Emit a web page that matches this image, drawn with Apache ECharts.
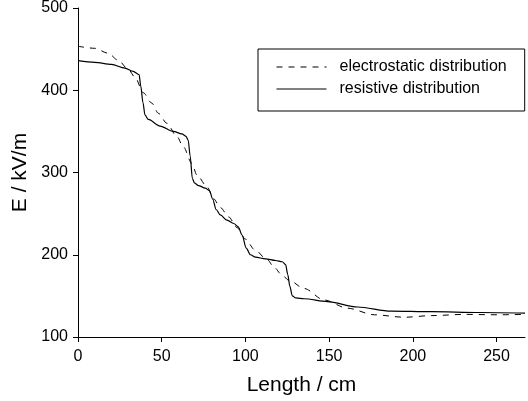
<!DOCTYPE html>
<html>
<head>
<meta charset="utf-8">
<script src="https://cdn.jsdelivr.net/npm/echarts@6/dist/echarts.min.js"></script>
<style>
html,body{margin:0;padding:0;background:#fff;}
#chart{width:528px;height:401px;}
</style>
</head>
<body>
<div id="chart"></div>
<script>
// Data
var seriesNames = ['electrostatic distribution', 'resistive distribution'];
var xTicks = [0, 50, 100, 150, 200, 250];
var yTicks = [100, 200, 300, 400, 500];

var electrostatic = [
  [0,453.5],[10,451],[18,445],[24,436.5],[30,425.5],[34,416],[39,397],[44,384.5],[48,372],
  [53,360],[59,344],[63,331],[68,311],[71,297],[77,283],[81,268],[85,257.5],[90,246],[95,233],
  [100,219],[105.6,206],[112.7,194.6],[117.6,184],[121,177],[126,169],[135,159],[147,145],
  [161,135],[177,127],[195,124],[211,126],[231,127.5],[251,127],[267,127.5]
];

var resistive = [
  [0,436],[10,434],[20,431.5],[28,427],[33,423],[36.5,419],[37.5,405],[38.8,385],[40,370],
  [42,364.5],[49,356.5],[57,350],[62,347],[64.5,344],[65.8,339.5],[67,320],[68.3,293],
  [69.5,287.5],[72,284],[76,281],[78.5,278],[80.5,267.5],[82.5,255],[85,248.5],[89,242],
  [93,238],[95.7,234],[98,224],[100.5,208],[103,200],[106,197],[112,195],[118,193],
  [122,191.5],[124,188],[125.3,176],[126.5,162],[128,150],[130,147.5],[135,146.5],
  [149,143],[167,136.5],[187,131.5],[211,130.8],[240,129.8],[267,129]
];

var FONT = '"Liberation Sans", Arial, Helvetica, sans-serif';
var chart = echarts.init(document.getElementById('chart'), null, {renderer: 'canvas'});
chart.setOption({
  animation: false,
  backgroundColor: '#fff',
  grid: {left: 78, right: 3, top: 8, bottom: 64},
  legend: {
    orient: 'vertical',
    left: 258, top: 49,
    padding: [10, 18, 14, 18],
    itemWidth: 50, itemHeight: 16, itemGap: 6,
    itemStyle: {opacity: 0, color: 'rgba(0,0,0,0)', borderWidth: 0},
    lineStyle: {width: 1},
    borderColor: '#000', borderWidth: 1, borderRadius: 0,
    textStyle: {fontFamily: FONT, fontSize: 16, color: '#000', padding: [0,0,0,8]},
    data: seriesNames
  },
  xAxis: {
    type: 'value', min: 0, max: 267, interval: 50,
    name: 'Length / cm', nameLocation: 'middle', nameGap: 38,
    nameTextStyle: {fontFamily: FONT, fontSize: 21, color: '#000'},
    axisLine: {show: true, lineStyle: {color: '#000', width: 1}},
    axisTick: {show: true, length: 5, customValues: xTicks, lineStyle: {color: '#000'}},
    axisLabel: {fontFamily: FONT, fontSize: 16, color: '#000', margin: 12, customValues: xTicks},
    splitLine: {show: false}
  },
  yAxis: {
    type: 'value', min: 100, max: 500, interval: 100,
    name: 'E / kV/m', nameLocation: 'middle', nameGap: 43,
    nameTextStyle: {fontFamily: FONT, fontSize: 21, color: '#000'},
    axisLine: {show: true, lineStyle: {color: '#000', width: 1}},
    axisTick: {show: true, length: 5, customValues: yTicks, lineStyle: {color: '#000'}},
    axisLabel: {fontFamily: FONT, fontSize: 16, color: '#000', margin: 10, customValues: yTicks},
    splitLine: {show: false}
  },
  series: [
    {
      name: seriesNames[0], type: 'line', data: electrostatic,
      showSymbol: false, symbol: 'none', smooth: 0.3, smoothMonotone: 'x',
      lineStyle: {color: '#000', width: 1, type: [6, 6]},
      itemStyle: {color: '#000'}
    },
    {
      name: seriesNames[1], type: 'line', data: resistive,
      showSymbol: false, symbol: 'none', smooth: 0.3, smoothMonotone: 'x',
      lineStyle: {color: '#000', width: 1.2, type: 'solid'},
      itemStyle: {color: '#000'}
    }
  ]
});
</script>
</body>
</html>
